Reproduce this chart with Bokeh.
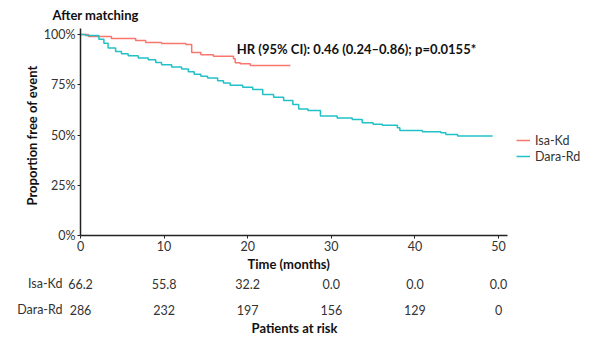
from bokeh.plotting import figure
from bokeh.models import (Range1d, FixedTicker, PrintfTickFormatter, Legend,
                          LegendItem, Label, Title)
from bokeh.embed import file_html
from bokeh.resources import INLINE
from bokeh.core.properties import value

FONT = "Lato"

# Kaplan-Meier estimates (time in months, proportion free of event in %)
isa_t = [0, 0.96, 3.7, 6.6, 7.8, 9.7, 12.6, 13.3, 14.4, 15.9, 18.3, 18.5, 19.1, 20.3, 25.1]
isa_s = [100, 99, 98, 97, 96, 95.5, 95, 91, 90, 89.2, 88, 86, 85.4, 84.6, 84.6]

dara_t = [0, 0.6, 2.2, 2.8, 3.3, 4.2, 4.9, 5.7, 6.9, 8.1, 9.0, 9.7, 10.9, 12.1, 12.9,
          13.6, 14.4, 15.2, 16.4, 17.1, 17.9, 19.4, 20.6, 21.8, 23.1, 24.3, 25.4,
          26.1, 27.2, 28.7, 30.7, 32.5, 33.7, 35.0, 36.1, 37.9, 38.2, 40.9, 43.1,
          43.7, 45.1, 49.3]
dara_s = [100, 99.5, 97.7, 95.7, 93.3, 91.6, 90.4, 89.4, 88.3, 87.5, 86.1, 85.0, 83.8,
          82.8, 81.5, 80.2, 79.2, 78.4, 77.0, 75.9, 74.8, 73.8, 72.6, 70.1, 68.8, 67.2,
          65.2, 63.0, 62.2, 59.4, 58.5, 57.7, 56.1, 55.3, 54.8, 53.6, 52.3, 51.6, 51.1,
          50.3, 49.5, 49.5]

x_ticks = [0, 10, 20, 30, 40, 50]
y_ticks = [0, 25, 50, 75, 100]

risk_times = [0, 10, 20, 30, 40, 50]
isa_risk = ["66.2", "55.8", "32.2", "0.0", "0.0", "0.0"]
dara_risk = ["286", "232", "197", "156", "129", "0"]
groups = ["Isa-Kd", "Dara-Rd"]

hr_text = "HR (95% CI): 0.46 (0.24\u20130.86); p=0.0155*"

ISA_COLOR = "#F8766D"
DARA_COLOR = "#22C1C8"
TXT = "#333333"
DARK = "#111111"
REG = "12.5px"
BOLD = "13px"

# main frame spans from x=80px to the right edge; axis line stops at 51.1 months
LEFT = 80
X_END = 62.2
x_range = Range1d(0, X_END)

p = figure(width=600, height=272, x_range=x_range, y_range=Range1d(0, 103),
           output_backend="svg", toolbar_location=None,
           min_border_left=LEFT, min_border_right=0, min_border_top=27,
           min_border_bottom=37, title="After matching")
p.outline_line_color = None
p.grid.visible = False

p.title.text_font = FONT
p.title.text_font_size = BOLD
p.title.text_font_style = "bold"
p.title.text_color = DARK
p.title.offset = -28
p.title.standoff = 10
p.title.vertical_align = "middle"

r_isa = p.step(isa_t, isa_s, mode="after", line_color=ISA_COLOR, line_width=1.5)
r_dara = p.step(dara_t, dara_s, mode="after", line_color=DARA_COLOR, line_width=1.5)

for ax in (p.xaxis[0], p.yaxis[0]):
    ax.axis_line_color = "#222222"
    ax.axis_line_width = 1.5
    ax.major_tick_line_color = "#222222"
    ax.major_tick_out = 3
    ax.major_tick_in = 0
    ax.minor_tick_line_color = None
    ax.major_label_text_font = FONT
    ax.major_label_text_font_size = REG
    ax.major_label_text_color = TXT
    ax.major_label_standoff = 2

p.xaxis.ticker = FixedTicker(ticks=x_ticks)
p.xaxis.bounds = (0, 51.1)
p.yaxis.ticker = FixedTicker(ticks=y_ticks)
p.yaxis.formatter = PrintfTickFormatter(format="%d%%")

# axis titles as panel titles so they can be centred on the drawn axis line
p.add_layout(Title(text="Time (months)", align="left", offset=167, standoff=0,
                   text_font=FONT, text_font_size=BOLD, text_font_style="bold",
                   text_color=DARK), "below")
p.add_layout(Title(text="Proportion free of event", align="left", offset=30,
                   standoff=2, text_font=FONT, text_font_size=BOLD,
                   text_font_style="bold", text_color=DARK), "left")

p.add_layout(Label(x=18.7, y=92.6, text=hr_text, text_font=FONT,
                   text_font_size=BOLD, text_font_style="bold",
                   text_color=DARK, text_baseline="middle"))

legend = Legend(items=[LegendItem(label=groups[0], renderers=[r_isa]),
                       LegendItem(label=groups[1], renderers=[r_dara])],
                location=(436, 71), padding=0, margin=0, spacing=0,
                glyph_width=14, glyph_height=16, label_height=16,
                label_standoff=5, border_line_color=None,
                background_fill_alpha=0, label_text_font=FONT,
                label_text_font_size=REG, label_text_color=TXT)
p.add_layout(legend)

# Patients-at-risk table: separate root so its frame can start further left
LEFT2 = 63
x_range2 = Range1d(-(LEFT - LEFT2) * X_END / (600 - LEFT), X_END)
p2 = figure(width=600, height=66, x_range=x_range2, y_range=Range1d(2.115, -0.423),
            output_backend="svg", toolbar_location=None, x_axis_type=None,
            min_border_left=LEFT2, min_border_right=0, min_border_top=0,
            min_border_bottom=0)
p2.outline_line_color = None
p2.grid.visible = False
ya = p2.yaxis[0]
ya.ticker = FixedTicker(ticks=[0, 1])
ya.major_label_overrides = {0: groups[0], 1: groups[1]}
ya.axis_line_color = None
ya.major_tick_line_color = None
ya.minor_tick_line_color = None
ya.major_tick_out = 0
ya.major_tick_in = 0
ya.major_label_standoff = 1
ya.major_label_text_font = FONT
ya.major_label_text_font_size = REG
ya.major_label_text_color = TXT

p2.text(x=risk_times, y=[0] * len(risk_times), text=isa_risk,
        text_font=value(FONT), text_font_size=REG, text_color=TXT,
        text_align="center", text_baseline="middle")
p2.text(x=risk_times, y=[1] * len(risk_times), text=dara_risk,
        text_font=value(FONT), text_font_size=REG, text_color=TXT,
        text_align="center", text_baseline="middle")
p2.text(x=[25.6], y=[1.692], text=["Patients at risk"], text_font=value(FONT),
        text_font_size=BOLD, text_font_style="bold", text_color=DARK,
        text_align="center", text_baseline="middle")

open("out.html", "w").write(file_html([p, p2], INLINE))
